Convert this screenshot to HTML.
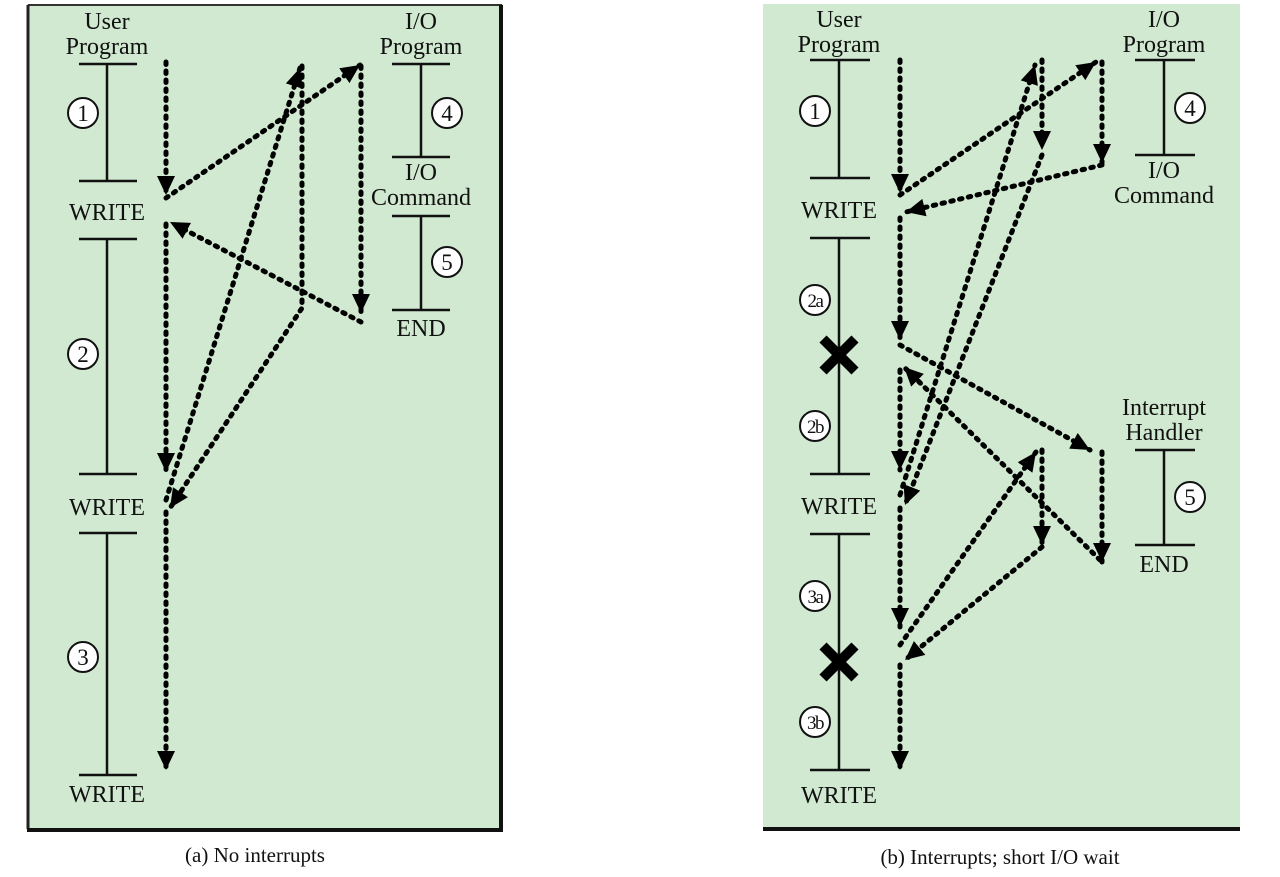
<!DOCTYPE html>
<html><head><meta charset="utf-8"><style>
html,body{margin:0;padding:0;background:#fff;}
svg{display:block;}
text{font-family:"Liberation Serif",serif;fill:#111;}
</style></head><body>
<svg width="1280" height="877" viewBox="0 0 1280 877" xmlns="http://www.w3.org/2000/svg">
<defs>
<marker id="a" markerUnits="userSpaceOnUse" markerWidth="24" markerHeight="22" refX="19" refY="9" orient="auto">
<path d="M0,0 L19,9 L0,18 z" fill="#000"/></marker>
</defs>
<!-- panel a -->
<rect x="27" y="4" width="476" height="826" fill="#d0e9d0"/>
<path d="M28,5 H502" stroke="#333" stroke-width="2"/>
<path d="M28,5 V829" stroke="#222" stroke-width="3"/>
<path d="M501,5 V830 H27" stroke="#111" stroke-width="4" fill="none"/>
<!-- panel b -->
<rect x="763" y="4" width="477" height="824" fill="#d0e9d0"/>
<path d="M763,829 H1240" stroke="#111" stroke-width="4"/>

<g font-size="24" text-anchor="middle">
<text x="107" y="29">User</text><text x="107" y="54">Program</text>
<text x="107" y="220">WRITE</text><text x="107" y="515">WRITE</text><text x="107" y="802">WRITE</text>
<text x="421" y="29">I/O</text><text x="421" y="54">Program</text>
<text x="421" y="180">I/O</text><text x="421" y="205">Command</text>
<text x="421" y="336">END</text>

<text x="839" y="27">User</text><text x="839" y="52">Program</text>
<text x="839" y="218">WRITE</text><text x="839" y="514">WRITE</text><text x="839" y="803">WRITE</text>
<text x="1164" y="27">I/O</text><text x="1164" y="52">Program</text>
<text x="1164" y="178">I/O</text><text x="1164" y="203">Command</text>
<text x="1164" y="415">Interrupt</text><text x="1164" y="440">Handler</text>
<text x="1164" y="572">END</text>
</g>
<g font-size="21" text-anchor="middle">
<text x="255" y="862">(a) No interrupts</text>
<text x="1000" y="864">(b) Interrupts; short I/O wait</text>
</g>

<!-- timelines -->
<g stroke="#111" stroke-width="2.5" fill="none">
<path d="M79,64H137M107,64V181M79,181H137"/>
<path d="M79,239H137M107,239V474M79,474H137"/>
<path d="M79,533H137M107,533V775M79,775H137"/>
<path d="M392,64H450M421,64V157M392,157H450"/>
<path d="M392,216H450M421,216V310M392,310H450"/>

<path d="M810,60H870M839,60V178M810,178H870"/>
<path d="M810,238H870M839,238V474M810,474H870"/>
<path d="M810,534H870M839,534V770M810,770H870"/>
<path d="M1135,60H1195M1164,60V155M1135,155H1195"/>
<path d="M1135,450H1195M1164,450V545M1135,545H1195"/>
</g>
<!-- X marks -->
<g stroke="#000" stroke-width="10">
<path d="M823,339L855,371M855,339L823,371"/>
<path d="M823,646L855,678M855,646L823,678"/>
</g>
<!-- circles -->
<g fill="#fff" stroke="#111" stroke-width="2">
<circle cx="83" cy="113" r="15"/><circle cx="83" cy="354" r="15"/><circle cx="83" cy="657" r="15"/>
<circle cx="447" cy="113" r="15"/><circle cx="447" cy="262" r="15"/>
<circle cx="815" cy="111" r="15"/><circle cx="815" cy="300" r="15"/><circle cx="815" cy="426" r="15"/>
<circle cx="815" cy="596" r="15"/><circle cx="815" cy="722" r="15"/>
<circle cx="1190" cy="108" r="15"/><circle cx="1190" cy="497" r="15"/>
</g>
<g font-size="23" text-anchor="middle">
<text x="83" y="121">1</text><text x="83" y="362">2</text><text x="83" y="665">3</text>
<text x="447" y="121">4</text><text x="447" y="270">5</text>
<text x="815" y="119">1</text><text x="1190" y="116">4</text><text x="1190" y="505">5</text>
</g>
<g font-size="19" text-anchor="middle" letter-spacing="-1.5">
<text x="815" y="307">2a</text><text x="815" y="433">2b</text>
<text x="815" y="603">3a</text><text x="815" y="729">3b</text>
</g>

<!-- arrows a -->
<g stroke="#000" stroke-width="5" stroke-dasharray="2.5 6.5" stroke-linecap="round" fill="none" marker-end="url(#a)">
<path d="M166,62V195"/>
<path d="M166,198L360,65"/>
<path d="M361,66V313"/>
<path d="M361,322L170,222"/>
<path d="M166,224V472"/>
<path d="M166,500L300,68"/>
<path d="M302,66V308L170,508"/>
<path d="M166,512V770"/>
</g>
<!-- arrows b -->
<g stroke="#000" stroke-width="5" stroke-dasharray="2.5 6.5" stroke-linecap="round" fill="none" marker-end="url(#a)">
<path d="M900,60V193"/>
<path d="M900,195L1096,62"/>
<path d="M1102,62V163"/>
<path d="M1102,165L906,212"/>
<path d="M900,218V340"/>
<path d="M900,345L1090,450"/>
<path d="M1102,452V562"/>
<path d="M1100,560L904,367"/>
<path d="M900,370V470"/>
<path d="M900,495L1035,65"/>
<path d="M1042,60V150"/>
<path d="M1042,155L905,505"/>
<path d="M900,508V627"/>
<path d="M900,645L1036,452"/>
<path d="M1042,450V545"/>
<path d="M1042,547L905,660"/>
<path d="M900,665V770"/>
</g>
</svg>
</body></html>
